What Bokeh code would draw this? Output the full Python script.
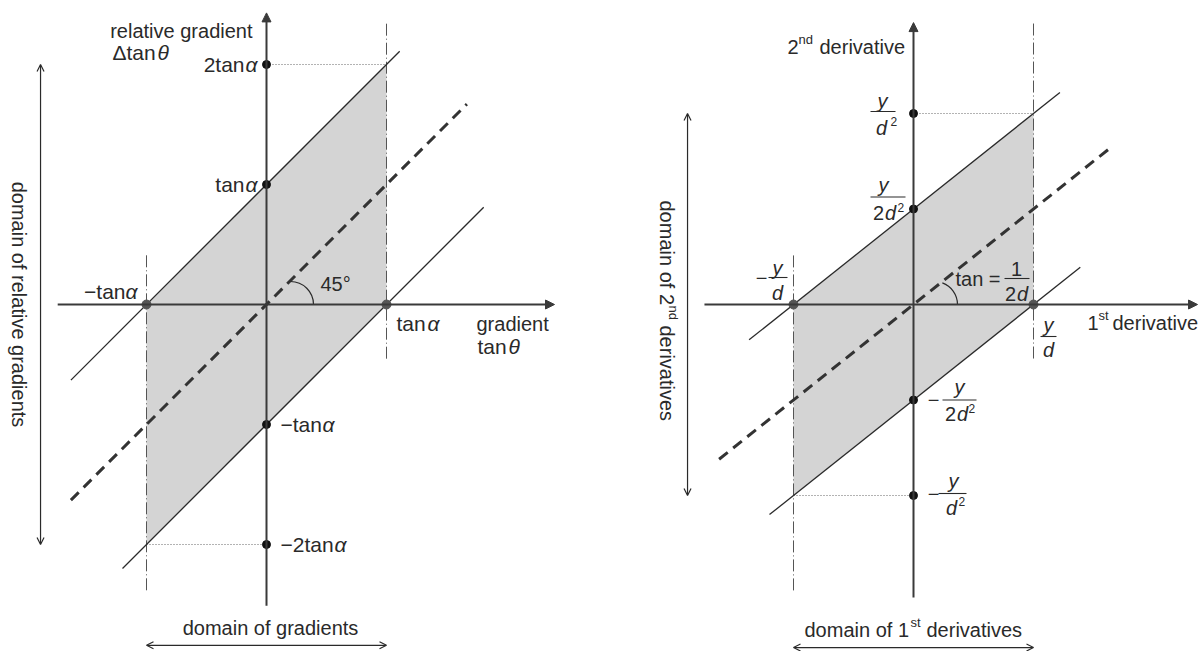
import math
from bokeh.plotting import figure
from bokeh.layouts import row
from bokeh.models import Range1d, Arrow, NormalHead, OpenHead
from bokeh.core.properties import value
from bokeh.embed import file_html
from bokeh.resources import INLINE

FONT = "Liberation Sans"
INK = "#2a2a2a"
AXIS = "#3a3a3a"
SHADE = "#d4d4d4"

# ---------------- Left diagram: gradients (unit = tan α) ----------------
L_domain = [-1, 1]                 # domain of gradients: −tanα … tanα
L_slope = 1.0                      # 45°
L_offset = 1.0                     # tanα
L_upper_x = [-1.63, 1.11]          # extent of line Δ = tanθ + tanα
L_lower_x = [-1.20, 1.81]          # extent of line Δ = tanθ − tanα
L_mid_x = [-1.63, 1.67]            # dashed line Δ = tanθ
L_axis_x = [-1.74, 2.40]
L_axis_y = [-2.51, 2.43]
L_rel_ticks = [2, 1, -1, -2]
L_dd_lo_y = [0.41, -2.40]          # vertical dash-dot at −tanα
L_dd_hi_y = [2.34, -0.46]          # vertical dash-dot at +tanα
L_dom_y = -2.84                    # level of "domain of gradients" arrow
L_dom_x = -1.883                   # x of "domain of relative gradients" arrow

# ---------------- Right diagram: derivatives (x: y/d, y: y/d²) ----------------
R_domain = [-1, 1]                 # −y/d … y/d
R_slope = 0.5                      # tan = 1/(2d)
R_offset = 0.5                     # y/(2d²)
R_upper_x = [-1.37, 1.22]
R_lower_x = [-1.20, 1.39]
R_mid_x = [-1.62, 1.66]
R_axis_x = [-1.742, 2.367]
R_axis_y = [-1.534, 1.476]
R_ticks = [1, 0.5, -0.5, -1]
R_dd_lo_y = [0.257, -1.508]
R_dd_hi_y = [1.471, -0.288]
R_dom_y = -1.796
R_dom_x = -1.883

# screen scale (px per unit) of each panel
L_SX, L_SY = 120.0, 120.0
R_SX, R_SY = 120.0, 191.0


def make_fig(w, xr, yr):
    p = figure(width=w, height=651, x_range=Range1d(*xr), y_range=Range1d(*yr),
               output_backend="svg", toolbar_location=None, min_border=0,
               x_axis_location=None, y_axis_location=None)
    p.grid.visible = False
    p.outline_line_color = None
    p.background_fill_color = "white"
    p.border_fill_color = "white"
    return p


def put(p, x, y, s, dx=0, dy=0, size=20, italic=False, align="left",
        baseline="middle", angle=0.0):
    p.text(x=[x], y=[y], text=[s], x_offset=dx, y_offset=dy, angle=angle,
           text_font=value(FONT), text_font_size=f"{size}px",
           text_font_style="italic" if italic else "normal",
           text_align=align, text_baseline=baseline, text_color=INK)


def bar(p, x, y, dx0, dx1, dy, sx, sy):
    p.segment(x0=[x + dx0 / sx], y0=[y - dy / sy], x1=[x + dx1 / sx], y1=[y - dy / sy],
              line_color=INK, line_width=1.1)


def draw_panel(p, slope, off, dom, upper_x, lower_x, mid_x, axis_x, axis_y,
               dd_lo_y, dd_hi_y, ticks, dom_y, dom_x, arc_cx, arc_end):
    # shaded parallelogram
    px = [dom[0], dom[0], dom[1], dom[1]]
    py = [slope * dom[0] - off, slope * dom[0] + off, slope * dom[1] + off, slope * dom[1] - off]
    p.patch(px, py, fill_color=SHADE, line_color=None)
    # dotted guides
    top, bot = slope * dom[1] + off, slope * dom[0] - off
    p.line([0, dom[1]], [top, top], line_color="#666", line_width=1, line_dash="1 2")
    p.line([dom[0], 0], [bot, bot], line_color="#666", line_width=1, line_dash="1 2")
    # dash-dot domain limits
    p.line([dom[0], dom[0]], dd_lo_y, line_color="#555", line_width=1, line_dash="12 3 1 3")
    p.line([dom[1], dom[1]], dd_hi_y, line_color="#555", line_width=1, line_dash="12 3 1 3")
    # dashed middle line
    p.line(mid_x, [slope * v for v in mid_x], line_color="#333", line_width=3, line_dash="11 7")
    # boundary lines
    p.line(upper_x, [slope * v + off for v in upper_x], line_color=INK, line_width=1.3)
    p.line(lower_x, [slope * v - off for v in lower_x], line_color=INK, line_width=1.3)
    # axes
    p.add_layout(Arrow(x_start=axis_x[0], y_start=0, x_end=axis_x[1], y_end=0,
                       end=NormalHead(size=9, fill_color=AXIS, line_color=AXIS),
                       line_color=AXIS, line_width=2))
    p.add_layout(Arrow(x_start=0, y_start=axis_y[0], x_end=0, y_end=axis_y[1],
                       end=NormalHead(size=9, fill_color=AXIS, line_color=AXIS),
                       line_color=AXIS, line_width=2))
    # angle arc
    p.arc(x=[arc_cx], y=[0], radius=23, radius_units="screen", start_angle=0,
          end_angle=arc_end, line_color=INK, line_width=1.2)
    # points
    p.scatter([0] * len(ticks), ticks, size=8, color="#111")
    p.scatter(dom, [0, 0], size=9, color="#555")
    # domain arrows
    p.add_layout(Arrow(x_start=dom[0], y_start=dom_y, x_end=dom[1], y_end=dom_y,
                       start=OpenHead(size=7, line_width=1.2, line_color=INK),
                       end=OpenHead(size=7, line_width=1.2, line_color=INK),
                       line_color=INK, line_width=1.2))
    p.add_layout(Arrow(x_start=dom_x, y_start=ticks[-1], x_end=dom_x, y_end=ticks[0],
                       start=OpenHead(size=7, line_width=1.2, line_color=INK),
                       end=OpenHead(size=7, line_width=1.2, line_color=INK),
                       line_color=INK, line_width=1.2))


# ======================= LEFT =======================
pl = make_fig(600, (-266 / L_SX, 334 / L_SX), (-347 / L_SY, 304 / L_SY))
draw_panel(pl, L_slope, L_offset, L_domain, L_upper_x, L_lower_x, L_mid_x, L_axis_x, L_axis_y,
           L_dd_lo_y, L_dd_hi_y, L_rel_ticks, L_dom_y, L_dom_x, 24 / L_SX, math.pi / 2)

M = 21
put(pl, 0, L_axis_y[1], "relative gradient", dx=-14, dy=18, align="right", baseline="alphabetic")
put(pl, 0, L_axis_y[1], "Δtan", dx=-154, dy=40, size=M, baseline="alphabetic")
put(pl, 0, L_axis_y[1], "θ", dx=-109, dy=40, size=M, italic=True, baseline="alphabetic")
put(pl, 0, 2, "2tan", dx=-22, size=M, align="right")
put(pl, 0, 2, "α", dx=-9, size=M, italic=True, align="right")
put(pl, 0, 1, "tan", dx=-22, size=M, align="right")
put(pl, 0, 1, "α", dx=-9, size=M, italic=True, align="right")
put(pl, 0, -1, "−tan", dx=14, size=M)
put(pl, 0, -1, "α", dx=56, size=M, italic=True)
put(pl, 0, -2, "−2tan", dx=14, size=M)
put(pl, 0, -2, "α", dx=68, size=M, italic=True)
put(pl, -1, 0, "−tan", dx=-21, dy=-13, size=M, align="right")
put(pl, -1, 0, "α", dx=-9, dy=-13, size=M, italic=True, align="right")
put(pl, 1, 0, "tan", dx=10, dy=19, size=M)
put(pl, 1, 0, "α", dx=41, dy=19, size=M, italic=True)
put(pl, 1, 0, "gradient", dx=90, dy=19)
put(pl, 1, 0, "tan", dx=91, dy=42, size=M)
put(pl, 1, 0, "θ", dx=122, dy=42, size=M, italic=True)
put(pl, 0, 0, "45°", dx=54, dy=-21)
put(pl, 0, L_dom_y, "domain of gradients", dx=4, dy=-17, align="center")
put(pl, L_dom_x, 0, "domain of relative gradients", dx=-22, align="center", angle=-math.pi / 2)

# ======================= RIGHT =======================
pr = make_fig(601, (-313 / R_SX, 288 / R_SX), (-347 / R_SY, 304 / R_SY))
draw_panel(pr, R_slope, R_offset, R_domain, R_upper_x, R_lower_x, R_mid_x, R_axis_x, R_axis_y,
           R_dd_lo_y, R_dd_hi_y, R_ticks, R_dom_y, R_dom_x, 21 / R_SX, math.radians(70))

F = 20
S = 12
# axis title
put(pr, 0, R_axis_y[1], "2", dx=-126, dy=24)
put(pr, 0, R_axis_y[1], "nd", dx=-115, dy=17, size=13)
put(pr, 0, R_axis_y[1], "derivative", dx=-94, dy=24)
# y/d²
put(pr, 0, 1, "y", dx=-31, dy=-13, size=F, italic=True, align="center")
bar(pr, 0, 1, -43, -18, -2, R_SX, R_SY)
put(pr, 0, 1, "d", dx=-32, dy=14, size=F, italic=True, align="center")
put(pr, 0, 1, "2", dx=-23, dy=8, size=S)
# y/2d²
put(pr, 0, 0.5, "y", dx=-30, dy=-24, size=F, italic=True, align="center")
bar(pr, 0, 0.5, -43, -8, -12, R_SX, R_SY)
put(pr, 0, 0.5, "2", dx=-35, dy=4, size=F, align="center")
put(pr, 0, 0.5, "d", dx=-23, dy=4, size=F, italic=True, align="center")
put(pr, 0, 0.5, "2", dx=-16, dy=-2, size=S)
# −y/d
put(pr, -1, 0, "−", dx=-32, dy=-27, size=F, align="center")
put(pr, -1, 0, "y", dx=-16, dy=-37, size=F, italic=True, align="center")
bar(pr, -1, 0, -25, -6, -27, R_SX, R_SY)
put(pr, -1, 0, "d", dx=-16, dy=-12, size=F, italic=True, align="center")
# tan = 1/2d
put(pr, 0, 0, "tan =", dx=42, dy=-26, size=F)
put(pr, 0, 0, "1", dx=103, dy=-36, size=F, align="center")
bar(pr, 0, 0, 91, 116, -26, R_SX, R_SY)
put(pr, 0, 0, "2", dx=97, dy=-11, size=F, align="center")
put(pr, 0, 0, "d", dx=109, dy=-11, size=F, italic=True, align="center")
# y/d
put(pr, 1, 0, "y", dx=15, dy=20, size=F, italic=True, align="center")
bar(pr, 1, 0, 7, 23, 32, R_SX, R_SY)
put(pr, 1, 0, "d", dx=15, dy=45, size=F, italic=True, align="center")
# 1st derivative
put(pr, 1, 0, "1", dx=54, dy=18)
put(pr, 1, 0, "st", dx=65, dy=11, size=13)
put(pr, 1, 0, "derivative", dx=79, dy=18)
# −y/2d²
put(pr, 0, -0.5, "−", dx=20, dy=0, size=F, align="center")
put(pr, 0, -0.5, "y", dx=46, dy=-13, size=F, italic=True, align="center")
bar(pr, 0, -0.5, 29, 63, 0, R_SX, R_SY)
put(pr, 0, -0.5, "2", dx=37, dy=14, size=F, align="center")
put(pr, 0, -0.5, "d", dx=49, dy=14, size=F, italic=True, align="center")
put(pr, 0, -0.5, "2", dx=55, dy=8, size=S)
# −y/d²
put(pr, 0, -1, "−", dx=20, dy=-2, size=F, align="center")
put(pr, 0, -1, "y", dx=40, dy=-15, size=F, italic=True, align="center")
bar(pr, 0, -1, 25, 53, -2, R_SX, R_SY)
put(pr, 0, -1, "d", dx=38, dy=12, size=F, italic=True, align="center")
put(pr, 0, -1, "2", dx=45, dy=6, size=S)
# domain of 1st derivatives
put(pr, 0, R_dom_y, "domain of 1", dx=-109, dy=-18)
put(pr, 0, R_dom_y, "st", dx=-3, dy=-25, size=13)
put(pr, 0, R_dom_y, "derivatives", dx=13, dy=-18)
# domain of 2nd derivatives (rotated, reads downward)
put(pr, R_dom_x, 0, "domain of 2", dx=-21, dy=-104, angle=-math.pi / 2)
put(pr, R_dom_x, 0, "nd", dx=-14, dy=1, size=13, angle=-math.pi / 2)
put(pr, R_dom_x, 0, "derivatives", dx=-21, dy=21, angle=-math.pi / 2)

layout = row(pl, pr, spacing=0)
open("out.html", "w").write(file_html(layout, INLINE))
